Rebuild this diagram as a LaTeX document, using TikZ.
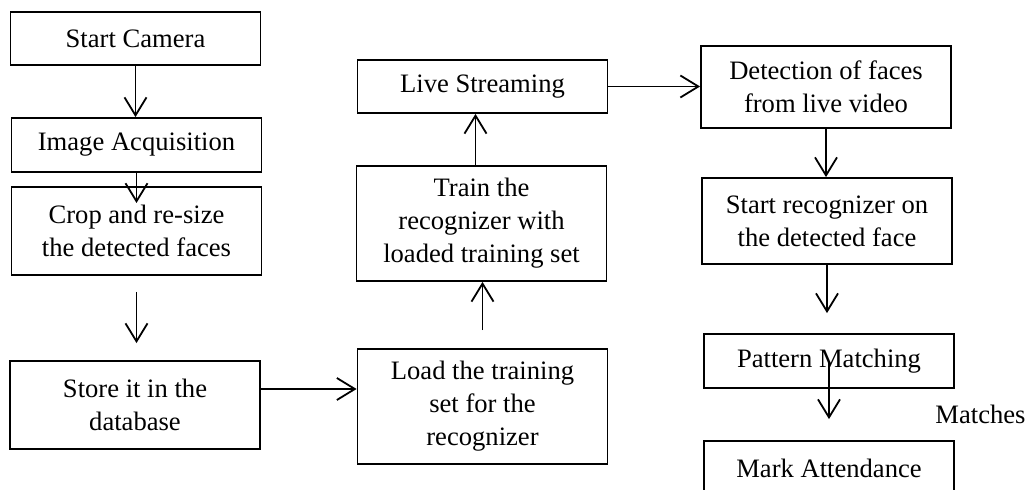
\documentclass[tikz,border=0pt]{standalone}
\usepackage{fontspec}
\setmainfont{Liberation Serif}
\usetikzlibrary{arrows.meta,positioning}

\begin{document}
\begin{tikzpicture}[x=0.5pt, y=-0.5pt,
    font=\fontsize{13.3}{16.5}\selectfont,
    block/.style={rectangle, draw, line width=0.9pt, align=center, minimum width=125pt, inner sep=0pt},
    arrow/.style={-{Straight Barb[length=9pt,width=11pt]}, line width=0.9pt}]

    \useasboundingbox (0,0) rectangle (1026,490);
    \clip (0,0) rectangle (1026,490);

    \node[block, minimum height=26.5pt] (camera) at (135.5,38.5) {Start Camera};
    \node[block, minimum height=27pt] (acquire) at (136.5,145) {Image Acquisition};
    \node[block, minimum height=44pt] (crop) at (136.5,231) {Crop and re-size\\the detected faces};
    \node[block, minimum height=44pt] (store) at (135,405) {Store it in the\\database};
    \node[block, minimum height=57.5pt] (load) at (482.5,406.5) {Load the training\\set for the\\recognizer};
    \node[block, minimum height=57.5pt] (train) at (481.5,223.5) {Train the\\recognizer with\\loaded training set};
    \node[block, minimum height=26.5pt] (stream) at (482.5,86.5) {Live Streaming};
    \node[block, minimum height=41pt] (detect) at (826,87) {Detection of faces\\from live video};
    \node[block, minimum height=43pt] (recog) at (827,221) {Start recognizer on\\the detected face};
    \node[block, minimum height=27pt] (match) at (829,361) {Pattern Matching};
    \node[block, minimum height=27pt] (mark) at (829,468) {Mark Attendance};
    \node[anchor=west, inner sep=0pt] (matches) at (935,414) {Matches};

    \coordinate (cropin) at (136.5,203);

    \draw[arrow] (camera.south) -- (camera.south |- acquire.north);
    \draw[arrow] (acquire.south) -- (cropin);
    \draw[arrow, shorten <=8pt, shorten >=8.5pt] (crop.south) -- (crop.south |- store.north);
    \draw[arrow] ([yshift=8pt]store.east) -- ([yshift=8pt]store.east -| load.west);
    \draw[arrow, shorten <=9pt] (load.north) -- (load.north |- train.south);
    \draw[arrow] ([xshift=-3pt]train.north) -- ([xshift=-3pt]train.north |- stream.south);
    \draw[arrow] (stream.east) -- (stream.east -| detect.west);
    \draw[arrow] (detect.south) -- (detect.south |- recog.north);
    \draw[arrow, shorten >=10pt] (recog.south) -- (recog.south |- match.north);
    \draw[arrow, shorten >=10.5pt] ([yshift=-1pt]match.center) -- (match.center |- mark.north);

\end{tikzpicture}
\end{document}
